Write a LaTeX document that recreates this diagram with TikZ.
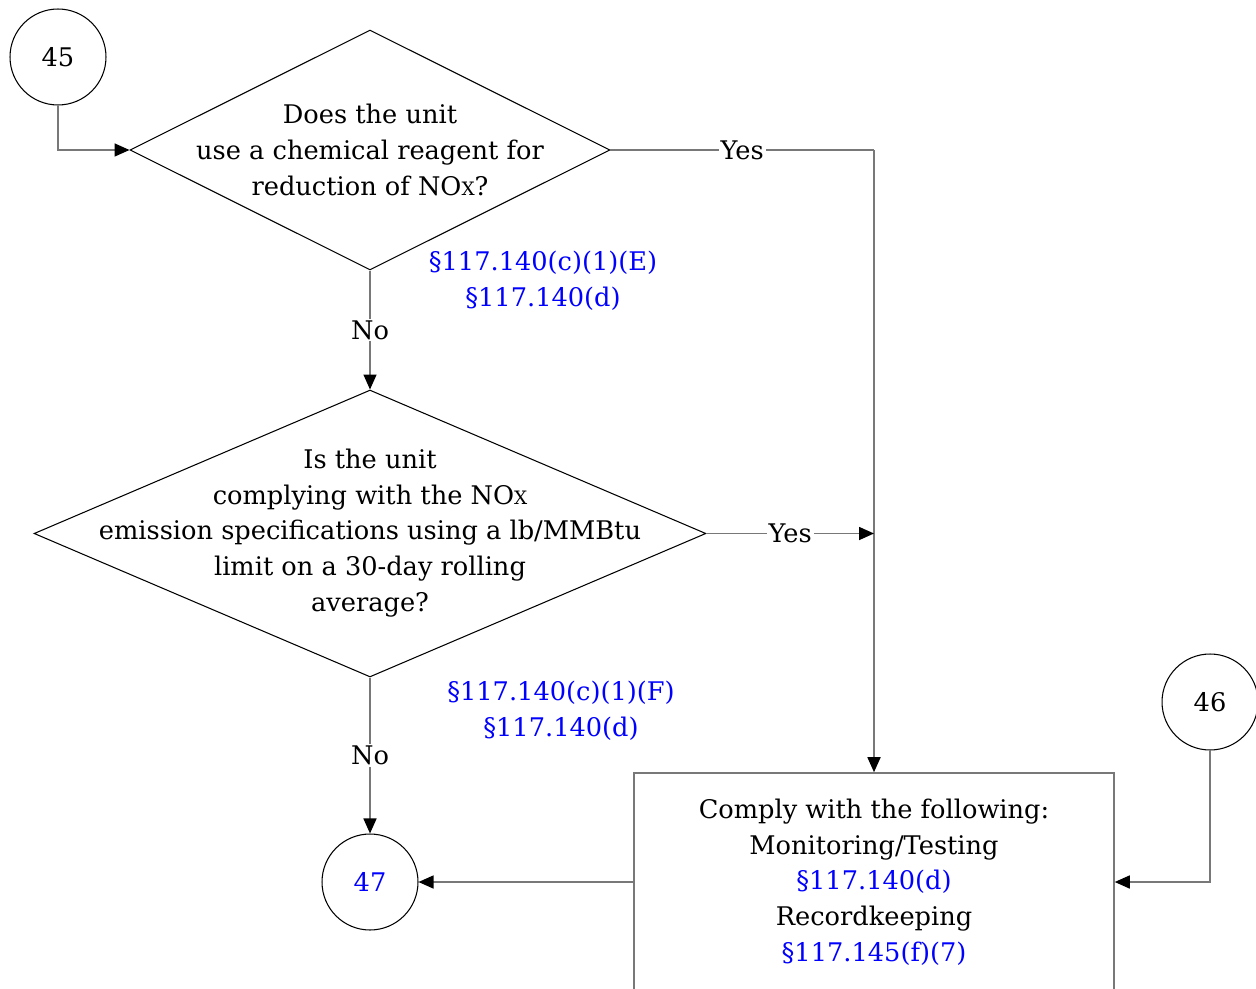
\documentclass[tikz,border=0pt]{standalone}
\usepackage{fontspec}
\setmainfont{DejaVu Serif}
\usepackage{tikz}
\usetikzlibrary{arrows.meta,shapes,positioning,calc}
\definecolor{refblue}{RGB}{0,0,255}
\definecolor{linkgray}{RGB}{120,120,120}
\newcommand{\nox}{NO\scalebox{0.72}{X}}

\begin{document}
\begin{tikzpicture}[x=0.02cm,y=-0.02cm,
    font=\fontsize{14.6}{20.3}\selectfont,
    conn/.style={draw=linkgray, line width=0.9pt},
    tip/.style={-{Triangle[length=0.3cm,width=0.26cm,color=black]}},
    onpath/.style={fill=white, inner sep=1pt},
    ref/.style={text=refblue, align=center},
    decision/.style={diamond, draw, line width=0.6pt, inner sep=0pt},
    offpage/.style={circle, draw, line width=0.6pt, minimum size=1.92cm, inner sep=0pt}]
    \useasboundingbox (0,0) rectangle (1256,989);

    % Off-page connectors
    \node[offpage] (c45) at (58,57) {45};
    \node[offpage] (c46) at (1210,702) {46};
    \node[offpage, text=refblue] (c47) at (370,882) {47};

    % Decision 1
    \node[decision, minimum width=9.6cm, minimum height=4.8cm] (q1) at (370,150) {};
    \node[align=center] (q1txt) at (370,150) {Does the unit\\use a chemical reagent for\\reduction of \nox?};
    \node[ref] (r1) at (543,281) {\S117.140(c)(1)(E)\\\S117.140(d)};

    % Decision 2
    \node[decision, minimum width=13.44cm, minimum height=5.74cm] (q2) at (370,533.5) {};
    \node[align=center] (q2txt) at (370,533) {Is the unit\\complying with the \nox\\emission specifications using a lb/MMBtu\\limit on a 30-day rolling\\average?};
    \node[ref] (r2) at (561,711) {\S117.140(c)(1)(F)\\\S117.140(d)};

    % Requirements box
    \node[draw=linkgray, line width=0.9pt, minimum width=9.6cm, minimum height=4.36cm, align=center] (req) at (874,882)
        {Comply with the following:\\Monitoring/Testing\\\textcolor{refblue}{\S117.140(d)}\\Recordkeeping\\\textcolor{refblue}{\S117.145(f)(7)}};

    % Connectors
    \coordinate (j1) at (req.north |- q1.east);
    \coordinate (j2) at (req.north |- q2.east);
    \draw[conn, tip] (c45.south) |- (q1.west);
    \draw[conn] (q1.east) -- node[onpath] (y1) {Yes} (j1);
    \draw[conn, tip] (j1) -- (req.north);
    \draw[conn, tip] (q2.east) -- node[onpath] (y2) {Yes} (j2);
    \draw[conn, tip] (q1.south) -- node[onpath] (n1) {No} (q2.north);
    \draw[conn, tip] (q2.south) -- node[onpath] (n2) {No} (c47.north);
    \draw[conn, tip] (req.west) -- (c47.east);
    \draw[conn, tip] (c46.south) |- (req.east);
\end{tikzpicture}
\end{document}
